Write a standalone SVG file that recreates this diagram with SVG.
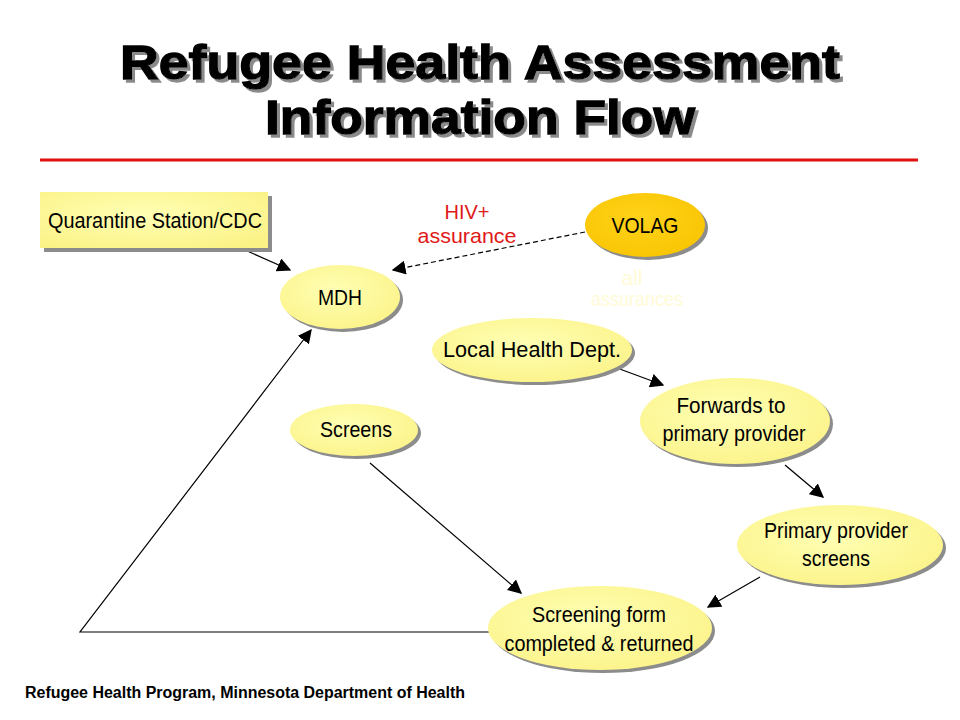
<svg xmlns="http://www.w3.org/2000/svg" width="960" height="720" viewBox="0 0 960 720">
<style>
.title{font-family:"Liberation Sans",Arial,sans-serif;font-weight:bold;font-size:49px;text-anchor:middle;fill:#000;stroke:#000;stroke-width:1.3;filter:url(#ts)}
.lbl{font-family:"Liberation Sans",Arial,sans-serif;font-size:22px;text-anchor:middle;fill:#000}
.red{font-family:"Liberation Sans",Arial,sans-serif;font-size:21px;text-anchor:middle;fill:#e01818}
.pale{font-family:"Liberation Sans",Arial,sans-serif;font-size:21px;text-anchor:middle;fill:#fffbd6}
.foot{font-family:"Liberation Sans",Arial,sans-serif;font-size:16px;font-weight:bold;fill:#000}
.shadow{fill:#8c8c8c}
.node{fill:url(#yg)}
.volag{fill:url(#og)}
.conn{stroke:#000;stroke-width:1.2;fill:none;marker-end:url(#arr)}
</style>
<defs>
<filter id="ts" x="-5%" y="-20%" width="110%" height="150%">
<feDropShadow dx="3" dy="3" stdDeviation="0.6" flood-color="#8a8a8a" flood-opacity="1"/>
</filter>
<radialGradient id="yg" cx="0.45" cy="0.4" r="0.7">
<stop offset="0" stop-color="#ffffb4"/>
<stop offset="1" stop-color="#fbf286"/>
</radialGradient>
<radialGradient id="og" cx="0.45" cy="0.4" r="0.7">
<stop offset="0" stop-color="#ffd21a"/>
<stop offset="1" stop-color="#f8c400"/>
</radialGradient>
<marker id="arr" viewBox="0 0 10 10" refX="9" refY="5" markerWidth="14" markerHeight="14" markerUnits="userSpaceOnUse" orient="auto">
<path d="M0,0 L10,5 L0,10 z" fill="#000"/>
</marker>
</defs>
<rect width="960" height="720" fill="#fff"/>

<g id="title">
<text class="title" x="480" y="79" textLength="720" lengthAdjust="spacingAndGlyphs">Refugee Health Assessment</text>
<text class="title" x="480" y="134" textLength="430" lengthAdjust="spacingAndGlyphs">Information Flow</text>
<line x1="40" y1="160" x2="918" y2="160" stroke="#e01010" stroke-width="3"/>
</g>

<g id="connectors">
<line class="conn" x1="245" y1="250" x2="290" y2="270"/>
<line class="conn" x1="585" y1="232" x2="393" y2="270" stroke-dasharray="5,3"/>
<line class="conn" x1="617" y1="368" x2="663" y2="385"/>
<line class="conn" x1="785" y1="465" x2="823" y2="497"/>
<line class="conn" x1="760" y1="577" x2="708" y2="607"/>
<line class="conn" x1="370" y1="463" x2="521" y2="593"/>
<polyline class="conn" points="490,632 80,632 311,330"/>
</g>

<g id="quarantine">
<rect class="shadow" x="44" y="196" width="228" height="56"/>
<rect class="node" x="40" y="192" width="228" height="56"/>
<text class="lbl" x="155" y="228" textLength="214" lengthAdjust="spacingAndGlyphs">Quarantine Station/CDC</text>
</g>

<g id="mdh">
<ellipse class="shadow" cx="343" cy="300" rx="60" ry="32"/>
<ellipse class="node" cx="340" cy="297" rx="60" ry="32"/>
<text class="lbl" x="340" y="305" textLength="44" lengthAdjust="spacingAndGlyphs">MDH</text>
</g>

<g id="volag">
<ellipse class="shadow" cx="648" cy="228" rx="60" ry="32"/>
<ellipse class="volag" cx="645" cy="225" rx="60" ry="32"/>
<text class="lbl" x="645" y="233" textLength="67" lengthAdjust="spacingAndGlyphs">VOLAG</text>
</g>

<g id="labels">
<text class="red" x="467" y="219" textLength="45" lengthAdjust="spacingAndGlyphs">HIV+</text>
<text class="red" x="467" y="243" textLength="99" lengthAdjust="spacingAndGlyphs">assurance</text>
<text class="pale" x="632" y="285">all</text>
<text class="pale" x="637" y="306" textLength="92" lengthAdjust="spacingAndGlyphs">assurances</text>
</g>

<g id="localhealth">
<ellipse class="shadow" cx="535" cy="353" rx="100" ry="32"/>
<ellipse class="node" cx="532" cy="350" rx="100" ry="32"/>
<text class="lbl" x="532" y="357" textLength="178" lengthAdjust="spacingAndGlyphs">Local Health Dept.</text>
</g>

<g id="forwards">
<ellipse class="shadow" cx="738" cy="424" rx="95" ry="43"/>
<ellipse class="node" cx="735" cy="421" rx="95" ry="43"/>
<text class="lbl" x="731" y="413" textLength="109" lengthAdjust="spacingAndGlyphs">Forwards  to</text>
<text class="lbl" x="734" y="441" textLength="143" lengthAdjust="spacingAndGlyphs">primary provider</text>
</g>

<g id="screens">
<ellipse class="shadow" cx="357" cy="433" rx="64" ry="26"/>
<ellipse class="node" cx="354" cy="430" rx="64" ry="26"/>
<text class="lbl" x="356" y="437" textLength="72" lengthAdjust="spacingAndGlyphs">Screens</text>
</g>

<g id="primary">
<ellipse class="shadow" cx="843" cy="548" rx="103" ry="40"/>
<ellipse class="node" cx="840" cy="545" rx="103" ry="40"/>
<text class="lbl" x="836" y="538" textLength="144" lengthAdjust="spacingAndGlyphs">Primary provider</text>
<text class="lbl" x="836" y="566" textLength="68" lengthAdjust="spacingAndGlyphs">screens</text>
</g>

<g id="screeningform">
<ellipse class="shadow" cx="603" cy="631" rx="112" ry="42"/>
<ellipse class="node" cx="600" cy="628" rx="112" ry="42"/>
<text class="lbl" x="599" y="622" textLength="134" lengthAdjust="spacingAndGlyphs">Screening form</text>
<text class="lbl" x="599" y="651" textLength="189" lengthAdjust="spacingAndGlyphs">completed &amp; returned</text>
</g>

<g id="footer">
<text class="foot" x="25" y="698" textLength="440" lengthAdjust="spacingAndGlyphs">Refugee Health Program, Minnesota Department of Health</text>
</g>
</svg>
